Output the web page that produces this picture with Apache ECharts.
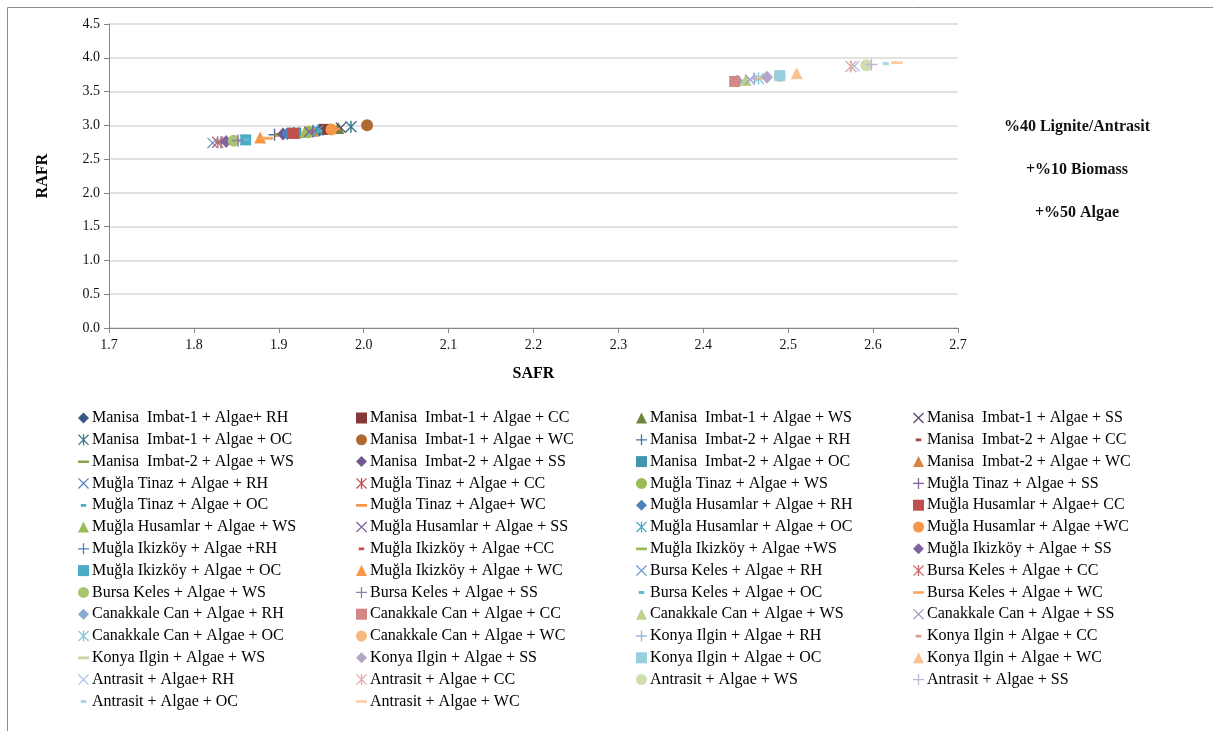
<!DOCTYPE html>
<html>
<head>
<meta charset="utf-8">
<script src="https://cdn.jsdelivr.net/npm/echarts@6/dist/echarts.min.js"></script>
<style>
  html, body { margin: 0; padding: 0; background: #fff; }
  #chart { width: 1213px; height: 731px; }
</style>
</head>
<body>
<div id="chart"></div>
<script>
// Series labels: coal + algae + biomass blend
const seriesNames = [
  'Manisa  Imbat-1 + Algae+ RH', 'Manisa  Imbat-1 + Algae + CC', 'Manisa  Imbat-1 + Algae + WS',
  'Manisa  Imbat-1 + Algae + SS', 'Manisa  Imbat-1 + Algae + OC', 'Manisa  Imbat-1 + Algae + WC',
  'Manisa  Imbat-2 + Algae + RH', 'Manisa  Imbat-2 + Algae + CC', 'Manisa  Imbat-2 + Algae + WS',
  'Manisa  Imbat-2 + Algae + SS', 'Manisa  Imbat-2 + Algae + OC', 'Manisa  Imbat-2 + Algae + WC',
  'Muğla Tinaz + Algae + RH', 'Muğla Tinaz + Algae + CC', 'Muğla Tinaz + Algae + WS',
  'Muğla Tinaz + Algae + SS', 'Muğla Tinaz + Algae + OC', 'Muğla Tinaz + Algae+ WC',
  'Muğla Husamlar + Algae + RH', 'Muğla Husamlar + Algae+ CC', 'Muğla Husamlar + Algae + WS',
  'Muğla Husamlar + Algae + SS', 'Muğla Husamlar + Algae + OC', 'Muğla Husamlar + Algae +WC',
  'Muğla Ikizköy + Algae +RH', 'Muğla Ikizköy + Algae +CC', 'Muğla Ikizköy + Algae +WS',
  'Muğla Ikizköy + Algae + SS', 'Muğla Ikizköy + Algae + OC', 'Muğla Ikizköy + Algae + WC',
  'Bursa Keles + Algae + RH', 'Bursa Keles + Algae + CC', 'Bursa Keles + Algae + WS',
  'Bursa Keles + Algae + SS', 'Bursa Keles + Algae + OC', 'Bursa Keles + Algae + WC',
  'Canakkale Can + Algae + RH', 'Canakkale Can + Algae + CC', 'Canakkale Can + Algae + WS',
  'Canakkale Can + Algae + SS', 'Canakkale Can + Algae + OC', 'Canakkale Can + Algae + WC',
  'Konya Ilgin + Algae + RH', 'Konya Ilgin + Algae + CC', 'Konya Ilgin + Algae + WS',
  'Konya Ilgin + Algae + SS', 'Konya Ilgin + Algae + OC', 'Konya Ilgin + Algae + WC',
  'Antrasit + Algae+ RH', 'Antrasit + Algae + CC', 'Antrasit + Algae + WS',
  'Antrasit + Algae + SS', 'Antrasit + Algae + OC', 'Antrasit + Algae + WC'
];

// SAFR value of each blend (same order as seriesNames)
const safr = [
  1.948, 1.955, 1.970, 1.973, 1.985, 2.004,
  1.895, 1.898, 1.902, 1.905, 1.920, 1.940,
  1.915, 1.918, 1.935, 1.940, 1.948, 1.965,
  1.910, 1.917, 1.931, 1.936, 1.946, 1.962,
  1.832, 1.835, 1.840, 1.838, 1.861, 1.878,
  1.822, 1.828, 1.847, 1.852, 1.862, 1.886,
  2.440, 2.437, 2.450, 2.455, 2.465, 2.490,
  2.460, 2.465, 2.470, 2.475, 2.490, 2.510,
  2.578, 2.574, 2.592, 2.598, 2.615, 2.628
];

// RAFR value of each blend (same order as seriesNames)
const rafr = [
  2.93, 2.94, 2.96, 2.965, 2.98, 3.00,
  2.86, 2.86, 2.865, 2.87, 2.885, 2.92,
  2.88, 2.885, 2.905, 2.91, 2.92, 2.945,
  2.875, 2.88, 2.90, 2.905, 2.925, 2.94,
  2.75, 2.755, 2.76, 2.76, 2.785, 2.82,
  2.74, 2.75, 2.77, 2.775, 2.79, 2.81,
  3.655, 3.65, 3.67, 3.68, 3.695, 3.73,
  3.69, 3.70, 3.705, 3.71, 3.735, 3.77,
  3.875, 3.87, 3.89, 3.90, 3.915, 3.93
];

const rafrTicks = { min: 0, max: 4.5, step: 0.5 };
const safrTicks = { min: 1.7, max: 2.7, step: 0.1 };
const noteLines = ['%40 Lignite/Antrasit', '+%10 Biomass', '+%50 Algae'];

// Office-style marker palette: hue cycles every 6 series, shade changes per block
const baseHues = ['#4F81BD', '#C0504D', '#9BBB59', '#8064A2', '#4BACC6', '#F79646'];
const blockShade = [-0.3, -0.12, 0, 0, 0, 0.15, 0.32, 0.42, 0.52];

function shade(hex, f) {
  const n = parseInt(hex.slice(1), 16);
  let r = (n >> 16) & 255, g = (n >> 8) & 255, b = n & 255;
  if (f < 0) { r *= 1 + f; g *= 1 + f; b *= 1 + f; }
  else { r += (255 - r) * f; g += (255 - g) * f; b += (255 - b) * f; }
  const h = v => Math.round(v).toString(16).padStart(2, '0');
  return '#' + h(r) + h(g) + h(b);
}

// Marker shapes cycle every 9 series
const DOTS = 'M0,0 L0.01,0 L0,0.01 Z M10,10 L9.99,10 L10,9.99 Z ';
const X_PATH = 'M0,0.8 L0.8,0 L10,9.2 L9.2,10 Z M9.2,0 L10,0.8 L0.8,10 L0,9.2 Z';
const markers = [
  { symbol: 'diamond', size: [12, 13] },
  { symbol: 'rect', size: 11 },
  { symbol: 'triangle', size: 12 },
  { symbol: 'path://' + X_PATH, size: 11 },
  { symbol: 'path://' + X_PATH + ' M4.4,0 L5.6,0 L5.6,10 L4.4,10 Z', size: 12 },
  { symbol: 'circle', size: 12 },
  { symbol: 'path://M4.4,0 L5.6,0 L5.6,4.4 L10,4.4 L10,5.6 L5.6,5.6 L5.6,10 L4.4,10 L4.4,5.6 L0,5.6 L0,4.4 L4.4,4.4 Z', size: 12 },
  { symbol: 'path://' + DOTS + 'M2.5,3.8 L7.5,3.8 L7.5,6.4 L2.5,6.4 Z', size: 12 },
  { symbol: 'path://' + DOTS + 'M0,3.9 L10,3.9 L10,6.3 L0,6.3 Z', size: 12 }
];

const serif = '"Liberation Serif", "Times New Roman", serif';

const series = seriesNames.map((name, i) => {
  const m = markers[i % 9];
  return {
    name,
    type: 'scatter',
    symbol: m.symbol,
    symbolSize: m.size,
    itemStyle: { color: shade(baseHues[i % 6], blockShade[Math.floor(i / 6)]), opacity: 1 },
    emphasis: { disabled: true },
    data: [[safr[i], rafr[i]]]
  };
});

// Four legend columns, filled row by row
const colLeft = [78, 356, 636, 913];
const legends = colLeft.map((left, c) => ({
  orient: 'vertical',
  left,
  top: 409,
  itemWidth: 11,
  itemHeight: 11,
  itemGap: 3.8,
  selectedMode: false,
  padding: 0,
  textStyle: { fontFamily: serif, fontSize: 16, color: '#000', lineHeight: 18, padding: [0, 0, 0, -2] },
  data: seriesNames
    .map((name, i) => ({ name, i }))
    .filter(d => d.i % 4 === c)
    .map(d => ({ name: d.name, icon: markers[d.i % 9].symbol }))
}));

const chart = echarts.init(document.getElementById('chart'), null, { renderer: 'canvas' });
chart.setOption({
  backgroundColor: '#fff',
  animation: false,
  grid: { left: 109, right: 255, top: 24, bottom: 403 },
  xAxis: {
    type: 'value',
    min: safrTicks.min, max: safrTicks.max, interval: safrTicks.step,
    name: 'SAFR', nameLocation: 'middle', nameGap: 38,
    nameTextStyle: { fontFamily: serif, fontSize: 16, fontWeight: 'bold', color: '#000' },
    axisLine: { show: true, lineStyle: { color: '#868686', width: 1 } },
    axisTick: { show: true, length: 5, lineStyle: { color: '#868686' } },
    axisLabel: { fontFamily: serif, fontSize: 14, color: '#111', margin: 10, formatter: v => v.toFixed(1) },
    splitLine: { show: false }
  },
  yAxis: {
    type: 'value',
    min: rafrTicks.min, max: rafrTicks.max, interval: rafrTicks.step,
    name: 'RAFR', nameLocation: 'middle', nameGap: 58,
    nameTextStyle: { fontFamily: serif, fontSize: 16, fontWeight: 'bold', color: '#000' },
    axisLine: { show: true, lineStyle: { color: '#868686', width: 1 } },
    axisTick: { show: true, length: 5, lineStyle: { color: '#868686' } },
    axisLabel: { fontFamily: serif, fontSize: 14, color: '#111', margin: 9, formatter: v => v.toFixed(1) },
    splitLine: { show: true, lineStyle: { color: '#D9D9D9', width: 1.5 } }
  },
  legend: legends,
  tooltip: { show: false },
  graphic: [
    {
      type: 'rect', silent: true, z: -1,
      shape: { x: 7.5, y: 7.5, width: 1210, height: 730 },
      style: { fill: 'none', stroke: '#8c8c8c', lineWidth: 1 }
    },
    ...noteLines.map((t, k) => ({
      type: 'text', silent: true,
      x: 1077, y: 127 + k * 43,
      style: {
        text: t, fontFamily: serif, fontSize: 16, fontWeight: 'bold', fill: '#111',
        textAlign: 'center', textVerticalAlign: 'middle'
      }
    }))
  ],
  series
});
</script>
</body>
</html>
